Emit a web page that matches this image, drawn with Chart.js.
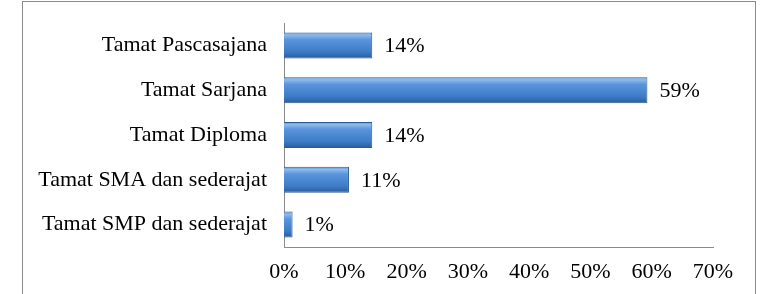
<!DOCTYPE html>
<html>
<head>
<meta charset="utf-8">
<script src="https://cdn.jsdelivr.net/npm/chart.js@4"></script>
<style>
  body { margin: 0; background: #fff; }
  #frame { position: absolute; left: 22px; top: 1px; width: 732px; height: 310px; border: 1px solid #8c8c8c; }
  #myChart { position: absolute; left: 0; top: 0; }
</style>
</head>
<body>
<div id="frame"></div>
<canvas id="myChart" width="762" height="294"></canvas>
<script>
// categories, top to bottom as drawn
let categories = ['Tamat Pascasajana', 'Tamat Sarjana', 'Tamat Diploma', 'Tamat SMA dan sederajat', 'Tamat SMP dan sederajat'];
// bar lengths (labels show them rounded)
let percentages = [14.4, 59.3, 14.4, 10.6, 1.4];
let tickValues = [0, 10, 20, 30, 40, 50, 60, 70];

const serif = "'Liberation Serif', 'Times New Roman', serif";

// bar fill: vertical gradient to mimic the bevelled Excel bars
function barFill(context) {
    const chart = context.chart;
    const y = chart.scales.y;
    if (!y || y.top === undefined) return '#4a86cf';
    const cy = y.getPixelForValue(context.dataIndex);
    const half = 13;
    const g = chart.ctx.createLinearGradient(0, cy - half, 0, cy + half);
    g.addColorStop(0, '#5b8fd0');
    g.addColorStop(0.1, '#8fbbea');
    g.addColorStop(0.28, '#5895dc');
    g.addColorStop(0.75, '#3d7bc6');
    g.addColorStop(1, '#2a5b99');
    return g;
}

const valueLabels = {
    id: 'valueLabels',
    afterDatasetsDraw(chart) {
        const ctx = chart.ctx;
        ctx.save();
        ctx.font = '22px ' + serif;
        ctx.fillStyle = '#000';
        ctx.textAlign = 'left';
        ctx.textBaseline = 'middle';
        chart.getDatasetMeta(0).data.forEach((bar, i) => {
            ctx.fillText(Math.round(percentages[i]) + '%', bar.x + 12, bar.y + 1);
        });
        ctx.restore();
    }
};

let myChart = document.getElementById('myChart').getContext('2d');
let barChart = new Chart(myChart, {
    type: 'bar',
    data: {
        labels: categories,
        datasets: [{
            data: percentages,
            backgroundColor: barFill,
            borderColor: '#2b5a94',
            borderWidth: 1,
            borderSkipped: 'start',
            categoryPercentage: 0.58,
            barPercentage: 1
        }]
    },
    options: {
        indexAxis: 'y',
        responsive: false,
        animation: false,
        layout: { padding: { top: 23, right: 49, left: 0, bottom: 0 } },
        plugins: {
            legend: { display: false },
            tooltip: { enabled: false }
        },
        scales: {
            x: {
                min: 0,
                max: 70,
                afterBuildTicks: axis => { axis.ticks = tickValues.map(v => ({ value: v })); },
                afterFit: axis => { axis.height = 47; },
                grid: { display: false, drawTicks: false },
                border: { display: true, color: '#8a8a8a', width: 1 },
                ticks: {
                    padding: 12,
                    color: '#000',
                    font: { family: serif, size: 22 },
                    maxRotation: 0,
                    autoSkip: false,
                    callback: v => v + '%'
                }
            },
            y: {
                afterFit: axis => {
                    axis.width = 284;
                    axis.paddingTop = 0;
                    axis.paddingBottom = 0;
                },
                grid: { display: false, drawTicks: false },
                border: { display: true, color: '#8a8a8a', width: 1 },
                ticks: {
                    padding: 17,
                    color: '#000',
                    font: { family: serif, size: 22 }
                }
            }
        }
    },
    plugins: [valueLabels]
});
</script>
</body>
</html>
